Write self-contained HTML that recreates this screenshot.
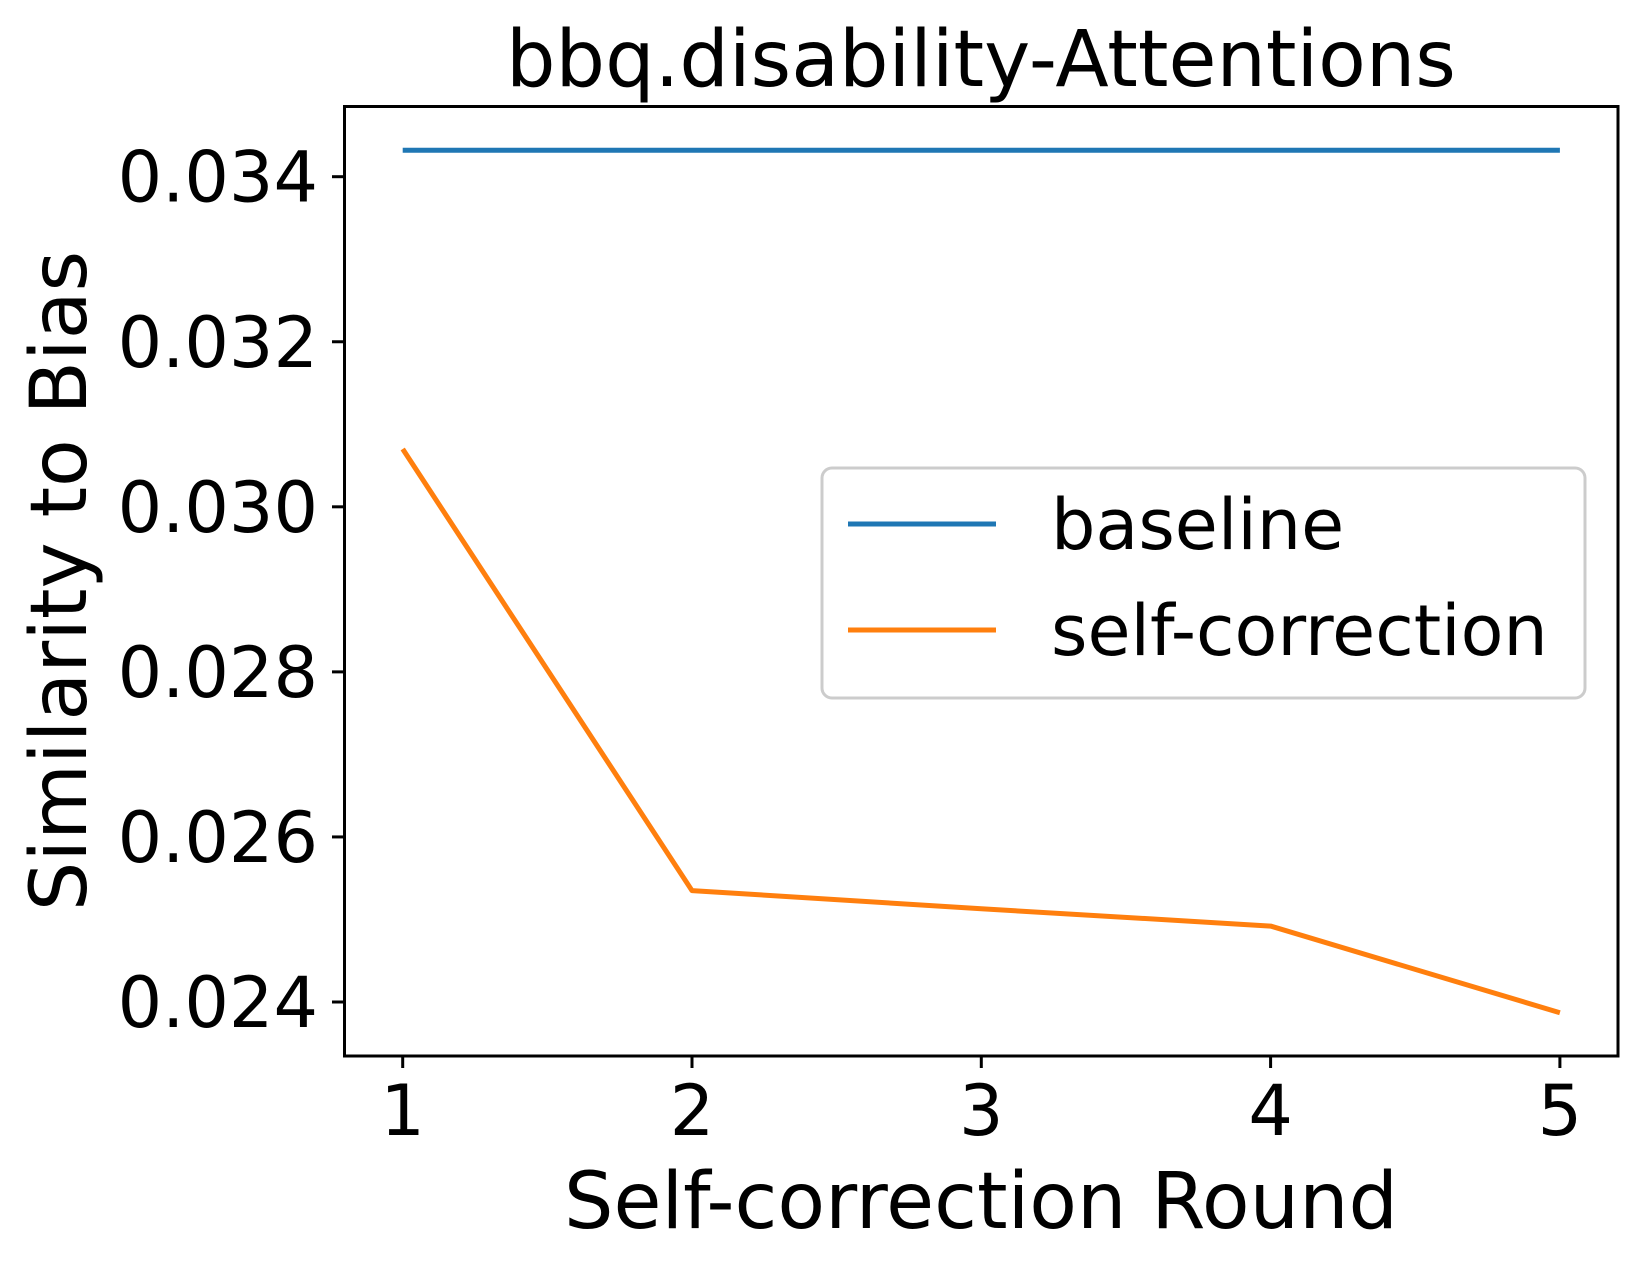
<!DOCTYPE html>
<html><head><meta charset="utf-8"><style>
body{margin:0;background:#fff;}
svg{display:block;font-family:"DejaVu Sans","Liberation Sans",sans-serif;}
</style></head><body>
<svg id="chart" width="1644" height="1266" viewBox="0 0 1644 1266">
<rect width="1644" height="1266" fill="#fff"/>
<text x="981" y="86" font-size="78" text-anchor="middle">bbq.disability-Attentions</text>
<g id="axes"></g>
<g id="series"></g>
<rect x="344.5" y="106.5" width="1273.5" height="949.5" fill="none" stroke="#000" stroke-width="3"/>
<text x="981" y="1228" font-size="78" text-anchor="middle">Self-correction Round</text>
<text transform="translate(86,581) rotate(-90)" font-size="78" text-anchor="middle">Similarity to Bias</text>
<g>
<rect x="822" y="468" width="763" height="230" rx="10" fill="#fff" stroke="#ccc" stroke-width="3"/>
<line x1="848" y1="524" x2="996" y2="524" stroke="#1f77b4" stroke-width="5"/>
<text x="1051" y="549" font-size="70">baseline</text>
<line x1="848" y1="630" x2="996" y2="630" stroke="#ff7f0e" stroke-width="5"/>
<text x="1051" y="655" font-size="70">self-correction</text>
</g>
</svg>
<script>
const rounds=[1,2,3,4,5];
const baseline=[0.03432,0.03432,0.03432,0.03432,0.03432];
const selfCorrection=[0.0307,0.02535,0.02513,0.02492,0.02387];
const yTicks=[0.024,0.026,0.028,0.030,0.032,0.034];
const yTickLabels=["0.024","0.026","0.028","0.030","0.032","0.034"];
const xTicks=[1,2,3,4,5];
const xTickLabels=["1","2","3","4","5"];
const NS="http://www.w3.org/2000/svg";
function xs(v){return 402.7+(v-1)*289.3;}
function ys(v){return 176.7-(v-0.034)*82530;}
function mk(tag,attrs,parent){const e=document.createElementNS(NS,tag);for(const k in attrs)e.setAttribute(k,attrs[k]);parent.appendChild(e);return e;}
const axes=document.getElementById('axes');
xTicks.forEach((t,i)=>{
 const l=mk('line',{x1:xs(t),x2:xs(t),y1:1056,y2:1068,stroke:'#000','stroke-width':3},axes);
 
 
 const tx=mk('text',{x:xs(t),y:1135,'font-size':70,'text-anchor':'middle'},axes);
 tx.textContent=xTickLabels[i];
 
 
});
yTicks.forEach((t,i)=>{
 const l=mk('line',{x1:332,x2:344.5,y1:ys(t),y2:ys(t),stroke:'#000','stroke-width':3},axes);
 
 
 const tx=mk('text',{x:318,y:ys(t)+25,'font-size':70,'text-anchor':'end'},axes);
 tx.textContent=yTickLabels[i];
 
 
});
const ser=document.getElementById('series');
function line(vals,color,name){
 const p=mk('polyline',{points:vals.map((v,i)=>xs(rounds[i])+','+ys(v)).join(' '),fill:'none',stroke:color,'stroke-width':5,'stroke-linejoin':'round'},ser);
 
 
}
line(baseline,'#1f77b4','baseline-line');
line(selfCorrection,'#ff7f0e','self-correction-line');
</script>
</body></html>
